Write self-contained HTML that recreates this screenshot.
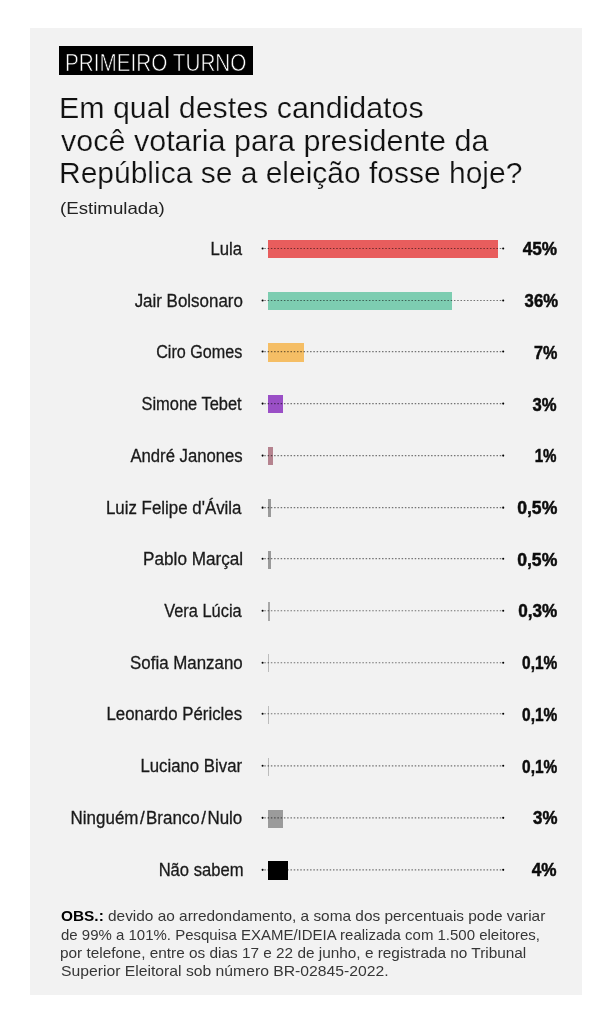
<!DOCTYPE html>
<html lang="pt-BR">
<head>
<meta charset="utf-8">
<title>Primeiro turno</title>
<style>
html,body{margin:0;padding:0;background:#fff;}
body{width:612px;height:1024px;position:relative;overflow:hidden;font-family:"Liberation Sans",sans-serif;color:#111;}
.panel{position:absolute;left:30px;top:28px;width:552px;height:967px;background:#f2f2f2;}
.badge{position:absolute;left:59px;top:46px;width:194px;height:29px;background:#000;}
.badge span{position:absolute;left:6.20px;top:2.4px;line-height:30px;font-size:23px;color:#fff;white-space:nowrap;-webkit-text-stroke:0.6px #000;transform-origin:0 50%;transform:scaleX(0.9005);}
.t{position:absolute;font-size:29.5px;line-height:34px;height:34px;white-space:nowrap;transform-origin:0 0;color:#111;-webkit-text-stroke:0.22px #f2f2f2;}
.sub{position:absolute;left:59.67px;top:198px;font-size:16.5px;line-height:20px;white-space:nowrap;transform-origin:0 0;transform:scaleX(1.1314);color:#222;}
.row{position:absolute;left:0;width:612px;height:20px;}
.lab{position:absolute;top:0;line-height:20px;font-size:17.5px;white-space:nowrap;transform-origin:100% 50%;color:#1a1a1a;-webkit-text-stroke:0.3px #1a1a1a;}
.lab .sl{margin:0 1.5px;}
.pct{position:absolute;top:.4px;line-height:20px;font-size:19.0px;font-weight:bold;white-space:nowrap;transform-origin:100% 50%;color:#0c0c0c;-webkit-text-stroke:0.5px #0c0c0c;}
.bar{position:absolute;left:268px;height:18.2px;}
.ln{position:absolute;left:258px;top:0;width:250px;height:20px;mix-blend-mode:multiply;overflow:visible;}
.n{position:absolute;font-size:15.0px;line-height:18px;height:18px;color:#363636;transform-origin:0 0;white-space:nowrap;}
.n b{color:#000}
</style>
</head>
<body>
<div class="panel"></div>
<div class="badge"><span>PRIMEIRO TURNO</span></div>
<div class="t" style="left:59.10px;top:90.80px;transform:scaleX(1.0292)">Em qual destes candidatos</div>
<div class="t" style="left:60.69px;top:123.60px;transform:scaleX(1.0341)">você votaria para presidente da</div>
<div class="t" style="left:59.17px;top:156.40px;transform:scaleX(1.0164)">República se a eleição fosse hoje?</div>
<div class="sub">(Estimulada)</div>
<div class="row" style="top:239.00px"><div class="lab" style="right:370.40px;transform:scaleX(0.9561)">Lula</div><div class="bar" style="top:0.90px;width:230.0px;background:#e85d5d"></div><svg class="ln" viewBox="0 0 250 20"><line x1="6.3" y1="9.50" x2="244" y2="9.50" stroke="#7a7a7a" stroke-width="1.15" stroke-dasharray="1.5 1.77"/><circle cx="4.6" cy="9.50" r="1.05" fill="#000"/><circle cx="245.2" cy="9.50" r="1.05" fill="#000"/></svg><div class="pct" style="right:54.93px;transform:scaleX(0.9040)">45%</div></div>
<div class="row" style="top:290.72px"><div class="lab" style="right:369.59px;transform:scaleX(0.9675)">Jair Bolsonaro</div><div class="bar" style="top:0.98px;width:184.0px;background:#7dcdb1"></div><svg class="ln" viewBox="0 0 250 20"><line x1="6.3" y1="9.53" x2="244" y2="9.53" stroke="#7a7a7a" stroke-width="1.15" stroke-dasharray="1.5 1.77"/><circle cx="4.6" cy="9.53" r="1.05" fill="#000"/><circle cx="245.2" cy="9.53" r="1.05" fill="#000"/></svg><div class="pct" style="right:54.48px;transform:scaleX(0.8788)">36%</div></div>
<div class="row" style="top:342.44px"><div class="lab" style="right:369.55px;transform:scaleX(0.9232)">Ciro Gomes</div><div class="bar" style="top:1.06px;width:35.8px;background:#f5be65"></div><svg class="ln" viewBox="0 0 250 20"><line x1="6.3" y1="9.56" x2="244" y2="9.56" stroke="#7a7a7a" stroke-width="1.15" stroke-dasharray="1.5 1.77"/><circle cx="4.6" cy="9.56" r="1.05" fill="#000"/><circle cx="245.2" cy="9.56" r="1.05" fill="#000"/></svg><div class="pct" style="right:54.67px;transform:scaleX(0.8499)">7%</div></div>
<div class="row" style="top:394.16px"><div class="lab" style="right:369.86px;transform:scaleX(0.9398)">Simone Tebet</div><div class="bar" style="top:1.14px;width:15.3px;background:#9a4fc6"></div><svg class="ln" viewBox="0 0 250 20"><line x1="6.3" y1="9.59" x2="244" y2="9.59" stroke="#7a7a7a" stroke-width="1.15" stroke-dasharray="1.5 1.77"/><circle cx="4.6" cy="9.59" r="1.05" fill="#000"/><circle cx="245.2" cy="9.59" r="1.05" fill="#000"/></svg><div class="pct" style="right:55.24px;transform:scaleX(0.8768)">3%</div></div>
<div class="row" style="top:445.88px"><div class="lab" style="right:369.28px;transform:scaleX(0.9543)">André Janones</div><div class="bar" style="top:1.22px;width:5.1px;background:#b5838f"></div><svg class="ln" viewBox="0 0 250 20"><line x1="6.3" y1="9.62" x2="244" y2="9.62" stroke="#7a7a7a" stroke-width="1.15" stroke-dasharray="1.5 1.77"/><circle cx="4.6" cy="9.62" r="1.05" fill="#000"/><circle cx="245.2" cy="9.62" r="1.05" fill="#000"/></svg><div class="pct" style="right:55.19px;transform:scaleX(0.7950)">1%</div></div>
<div class="row" style="top:497.60px"><div class="lab" style="right:370.33px;transform:scaleX(0.9649)">Luiz Felipe d'Ávila</div><div class="bar" style="top:1.30px;width:2.6px;background:#9a9a9a"></div><svg class="ln" viewBox="0 0 250 20"><line x1="6.3" y1="9.65" x2="244" y2="9.65" stroke="#7a7a7a" stroke-width="1.15" stroke-dasharray="1.5 1.77"/><circle cx="4.6" cy="9.65" r="1.05" fill="#000"/><circle cx="245.2" cy="9.65" r="1.05" fill="#000"/></svg><div class="pct" style="right:54.57px;transform:scaleX(0.9267)">0,5%</div></div>
<div class="row" style="top:549.32px"><div class="lab" style="right:368.89px;transform:scaleX(0.9795)">Pablo Marçal</div><div class="bar" style="top:1.38px;width:2.6px;background:#9a9a9a"></div><svg class="ln" viewBox="0 0 250 20"><line x1="6.3" y1="9.68" x2="244" y2="9.68" stroke="#7a7a7a" stroke-width="1.15" stroke-dasharray="1.5 1.77"/><circle cx="4.6" cy="9.68" r="1.05" fill="#000"/><circle cx="245.2" cy="9.68" r="1.05" fill="#000"/></svg><div class="pct" style="right:54.57px;transform:scaleX(0.9267)">0,5%</div></div>
<div class="row" style="top:601.04px"><div class="lab" style="right:370.19px;transform:scaleX(0.9369)">Vera Lúcia</div><div class="bar" style="top:1.46px;width:1.5px;background:#a8a8a8"></div><svg class="ln" viewBox="0 0 250 20"><line x1="6.3" y1="9.71" x2="244" y2="9.71" stroke="#7a7a7a" stroke-width="1.15" stroke-dasharray="1.5 1.77"/><circle cx="4.6" cy="9.71" r="1.05" fill="#000"/><circle cx="245.2" cy="9.71" r="1.05" fill="#000"/></svg><div class="pct" style="right:54.28px;transform:scaleX(0.9011)">0,3%</div></div>
<div class="row" style="top:652.76px"><div class="lab" style="right:369.03px;transform:scaleX(0.9652)">Sofia Manzano</div><div class="bar" style="top:1.54px;width:1.0px;background:#bcbcbc"></div><svg class="ln" viewBox="0 0 250 20"><line x1="6.3" y1="9.74" x2="244" y2="9.74" stroke="#7a7a7a" stroke-width="1.15" stroke-dasharray="1.5 1.77"/><circle cx="4.6" cy="9.74" r="1.05" fill="#000"/><circle cx="245.2" cy="9.74" r="1.05" fill="#000"/></svg><div class="pct" style="right:54.46px;transform:scaleX(0.8136)">0,1%</div></div>
<div class="row" style="top:704.48px"><div class="lab" style="right:369.46px;transform:scaleX(0.9611)">Leonardo Péricles</div><div class="bar" style="top:1.62px;width:1.0px;background:#bcbcbc"></div><svg class="ln" viewBox="0 0 250 20"><line x1="6.3" y1="9.77" x2="244" y2="9.77" stroke="#7a7a7a" stroke-width="1.15" stroke-dasharray="1.5 1.77"/><circle cx="4.6" cy="9.77" r="1.05" fill="#000"/><circle cx="245.2" cy="9.77" r="1.05" fill="#000"/></svg><div class="pct" style="right:54.46px;transform:scaleX(0.8136)">0,1%</div></div>
<div class="row" style="top:756.20px"><div class="lab" style="right:369.90px;transform:scaleX(0.9581)">Luciano Bivar</div><div class="bar" style="top:1.70px;width:1.0px;background:#bcbcbc"></div><svg class="ln" viewBox="0 0 250 20"><line x1="6.3" y1="9.80" x2="244" y2="9.80" stroke="#7a7a7a" stroke-width="1.15" stroke-dasharray="1.5 1.77"/><circle cx="4.6" cy="9.80" r="1.05" fill="#000"/><circle cx="245.2" cy="9.80" r="1.05" fill="#000"/></svg><div class="pct" style="right:54.46px;transform:scaleX(0.8136)">0,1%</div></div>
<div class="row" style="top:807.92px"><div class="lab" style="right:369.35px;transform:scaleX(0.9684)">Ninguém<span class="sl">/</span>Branco<span class="sl">/</span>Nulo</div><div class="bar" style="top:1.78px;width:15.3px;background:#9b9b9b"></div><svg class="ln" viewBox="0 0 250 20"><line x1="6.3" y1="9.83" x2="244" y2="9.83" stroke="#7a7a7a" stroke-width="1.15" stroke-dasharray="1.5 1.77"/><circle cx="4.6" cy="9.83" r="1.05" fill="#000"/><circle cx="245.2" cy="9.83" r="1.05" fill="#000"/></svg><div class="pct" style="right:54.95px;transform:scaleX(0.8879)">3%</div></div>
<div class="row" style="top:859.64px"><div class="lab" style="right:368.94px;transform:scaleX(0.9482)">Não sabem</div><div class="bar" style="top:1.86px;width:20.4px;background:#000000"></div><svg class="ln" viewBox="0 0 250 20"><line x1="6.3" y1="9.86" x2="244" y2="9.86" stroke="#7a7a7a" stroke-width="1.15" stroke-dasharray="1.5 1.77"/><circle cx="4.6" cy="9.86" r="1.05" fill="#000"/><circle cx="245.2" cy="9.86" r="1.05" fill="#000"/></svg><div class="pct" style="right:55.15px;transform:scaleX(0.9030)">4%</div></div>
<div class="n" style="left:61.15px;top:907.40px;transform:scaleX(1.0262)"><b>OBS.:</b> devido ao arredondamento, a soma dos percentuais pode variar</div>
<div class="n" style="left:61.27px;top:925.60px;transform:scaleX(0.9991)">de 99% a 101%. Pesquisa EXAME/IDEIA realizada com 1.500 eleitores,</div>
<div class="n" style="left:60.42px;top:943.60px;transform:scaleX(1.0241)">por telefone, entre os dias 17 e 22 de junho, e registrada no Tribunal</div>
<div class="n" style="left:60.52px;top:961.80px;transform:scaleX(1.0476)">Superior Eleitoral sob número BR-02845-2022.</div>
</body>
</html>
